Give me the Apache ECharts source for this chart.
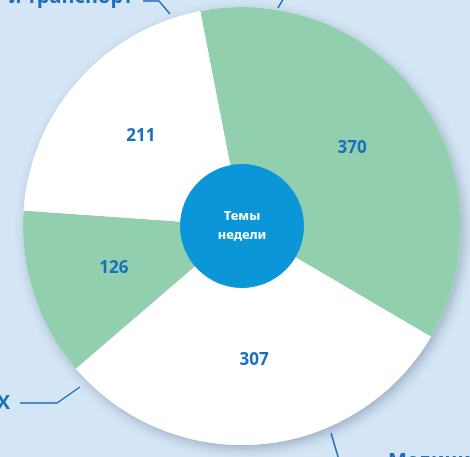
<!DOCTYPE html>
<html>
<head>
<meta charset="utf-8">
<script src="https://cdn.jsdelivr.net/npm/echarts@6/dist/echarts.min.js"></script>
<style>
html,body{margin:0;padding:0;background:#d4e6f5;}
#c{width:470px;height:457px;}
</style>
</head>
<body>
<div id="c"></div>
<script>
var categories = ['Медицина и здоровье', 'Медицина', 'ЖКХ', 'Ремонт и транспорт'];
var values = [370, 307, 126, 211];
var colors = ['#91cfae', '#ffffff', '#91cfae', '#ffffff'];
var centerTitle = 'Темы\nнедели';

var BLUE = '#1c6fb8';
var FONT = '"Noto Sans", "Open Sans", sans-serif';

var chart = echarts.init(document.getElementById('c'));
chart.setOption({
  backgroundColor: '#d4e6f5',
  animation: false,
  series: [
    {
      type: 'pie',
      z: 1,
      center: [242, 226],
      radius: [0, 219],
      silent: true,
      itemStyle: {
        color: '#ffffff',
        shadowBlur: 12,
        shadowColor: 'rgba(40,60,90,0.32)',
        shadowOffsetX: 3,
        shadowOffsetY: 4
      },
      label: { show: false },
      labelLine: { show: false },
      data: [{ name: 'shadow', value: 1 }]
    },
    {
      type: 'pie',
      z: 2,
      center: [242, 226],
      radius: [45, 219],
      startAngle: 101,
      clockwise: true,
      silent: true,
      itemStyle: { borderWidth: 0 },
      label: {
        show: true,
        position: 'inside',
        formatter: '{c}',
        color: BLUE,
        fontFamily: FONT,
        fontWeight: 'bold',
        fontSize: 17
      },
      labelLine: { show: false },
      data: values.map(function (v, i) {
        return { name: categories[i], value: v, itemStyle: { color: colors[i] } };
      })
    },
    {
      type: 'pie',
      z: 3,
      center: [242, 226],
      radius: [0, 62],
      silent: true,
      itemStyle: { color: '#0b96d8' },
      label: {
        show: true,
        position: 'center',
        formatter: centerTitle,
        color: '#ffffff',
        fontFamily: FONT,
        fontWeight: 'bold',
        fontSize: 13,
        lineHeight: 19
      },
      labelLine: { show: false },
      data: [{ name: centerTitle, value: 1 }]
    }
  ],
  graphic: [
    { type: 'text', x: 133, y: 7, style: { text: categories[3], align: 'right', verticalAlign: 'bottom', fill: BLUE, font: 'bold 20px ' + FONT } },
    { type: 'polyline', shape: { points: [[143, 1], [159, 1], [170, 14]] }, style: { stroke: BLUE, lineWidth: 1.5, fill: null } },
    { type: 'polyline', shape: { points: [[278, 8], [285, -4]] }, style: { stroke: BLUE, lineWidth: 1.5, fill: null } },
    { type: 'text', x: 10, y: 403, style: { text: categories[2], align: 'right', verticalAlign: 'middle', fill: BLUE, font: 'bold 20px ' + FONT } },
    { type: 'polyline', shape: { points: [[20, 403], [57, 403], [80, 387]] }, style: { stroke: BLUE, lineWidth: 1.5, fill: null } },
    { type: 'polyline', shape: { points: [[331, 433], [339, 460]] }, style: { stroke: BLUE, lineWidth: 1.5, fill: null } },
    { type: 'text', x: 388, y: 451.5, style: { text: categories[1], align: 'left', verticalAlign: 'top', fill: BLUE, font: 'bold 20px ' + FONT } }
  ]
});
</script>
</body>
</html>
